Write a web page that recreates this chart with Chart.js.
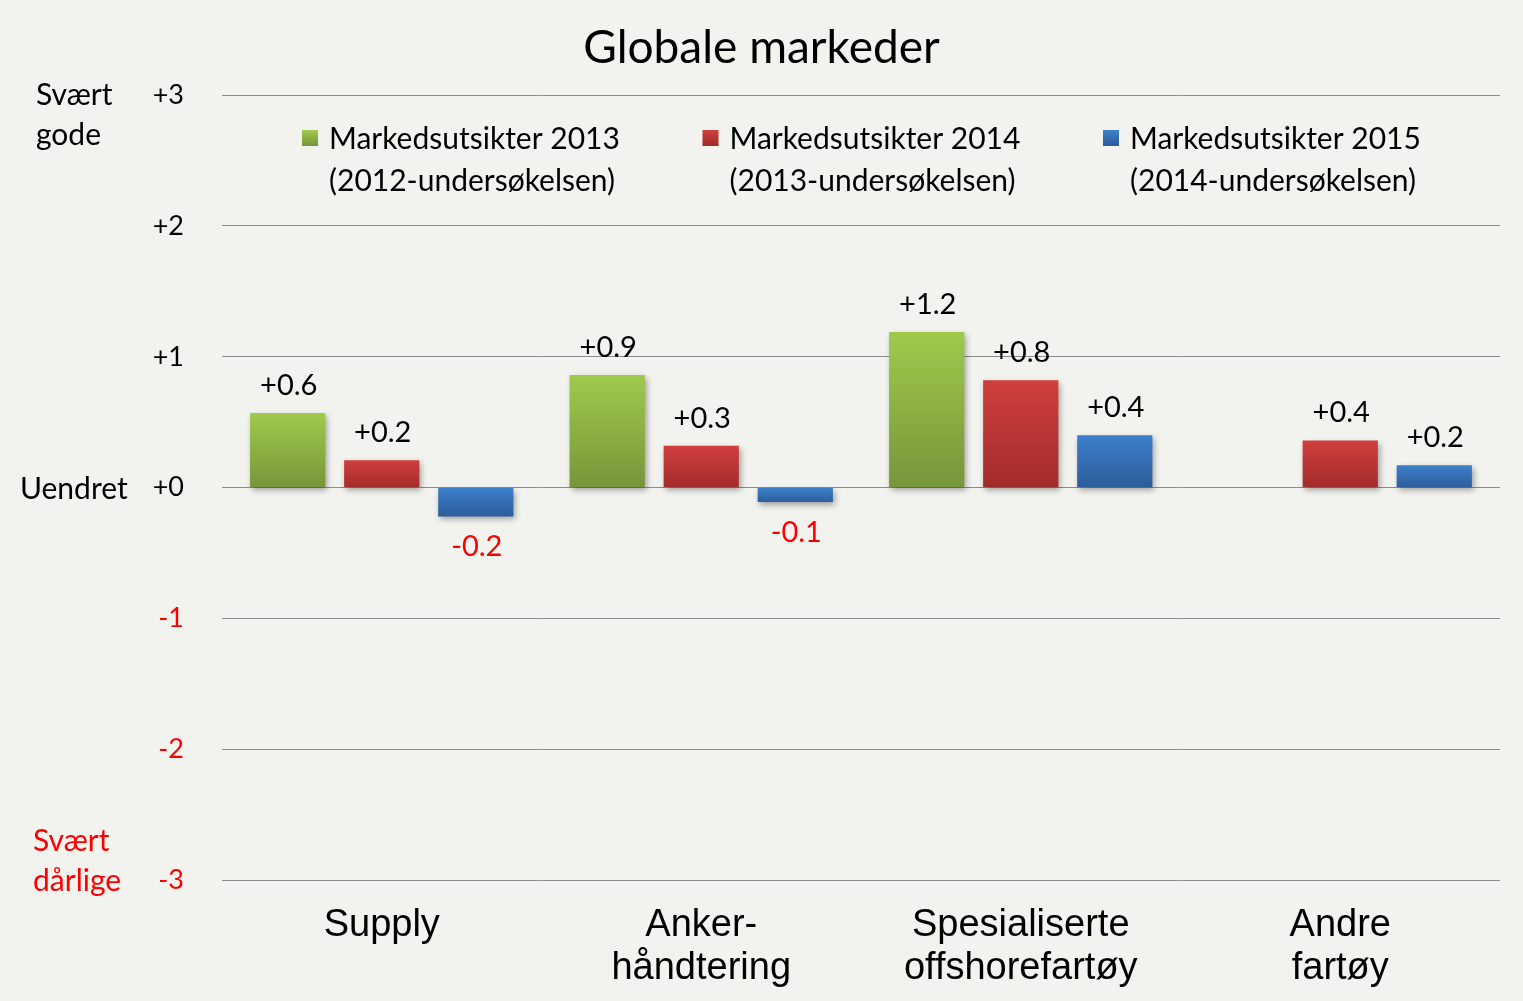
<!DOCTYPE html>
<html>
<head>
<meta charset="utf-8">
<title>Globale markeder</title>
<script src="https://cdn.jsdelivr.net/npm/chart.js@4.4.1/dist/chart.umd.min.js"></script>
<style>
  html, body { margin:0; padding:0; background:#f2f2ee; }
  #wrap { width:1523px; height:1001px; }
</style>
</head>
<body>
<div id="wrap"><canvas id="chart" width="1523" height="1001"></canvas></div>
<script>
/* =============================================
   Globale markeder – markedsutsikter per segment
   ============================================= */

const categories = [
  ['Supply'],
  ['Anker-', 'håndtering'],
  ['Spesialiserte', 'offshorefartøy'],
  ['Andre', 'fartøy']
];

const seriesNames = [
  ['Markedsutsikter 2013', '(2012-undersøkelsen)'],
  ['Markedsutsikter 2014', '(2013-undersøkelsen)'],
  ['Markedsutsikter 2015', '(2014-undersøkelsen)']
];

const outlook2013 = [0.57, 0.86, 1.19, null];
const outlook2014 = [0.21, 0.32, 0.82, 0.36];
const outlook2015 = [-0.22, -0.11, 0.40, 0.17];

const yTicks = [-3, -2, -1, 0, 1, 2, 3];

// top / bottom colour of each series' gradient
const SERIES_COLORS = [
  { top:'#a0c94c', bottom:'#76953a' },
  { top:'#d03f3d', bottom:'#a12b2a' },
  { top:'#3d80cc', bottom:'#2c5b98' }
];

const FONT = 'Lato, "Open Sans", sans-serif';
const RED = '#ff0000';

function fmt(v) {
  return (v >= 0 ? '+' : '') + (Number.isInteger(v) ? v : v.toFixed(1));
}

function barGradient(idx) {
  return ctx => {
    const chart = ctx.chart;
    const c = SERIES_COLORS[idx];
    if (!chart.chartArea || ctx.type !== 'data' || ctx.raw == null) return c.top;
    const y = chart.scales.y;
    const y0 = y.getPixelForValue(Math.max(ctx.raw, 0));
    const y1 = y.getPixelForValue(Math.min(ctx.raw, 0));
    const g = chart.ctx.createLinearGradient(0, y0, 0, y1 + 1);
    g.addColorStop(0, c.top);
    g.addColorStop(1, c.bottom);
    return g;
  };
}

// page background
const bgPlugin = {
  id:'bg',
  beforeDraw(chart) {
    const c = chart.ctx;
    c.save();
    c.fillStyle = '#f2f2ee';
    c.fillRect(0, 0, chart.width, chart.height);
    c.restore();
  }
};

// soft drop shadow under the bars
const shadowPlugin = {
  id:'shadow',
  beforeDatasetDraw(chart) {
    const c = chart.ctx;
    c.save();
    c.shadowColor = 'rgba(0,0,0,0.35)';
    c.shadowBlur = 6;
    c.shadowOffsetX = 2;
    c.shadowOffsetY = 3;
  },
  afterDatasetDraw(chart) { chart.ctx.restore(); }
};

// value labels over / under each bar
const valueLabels = {
  id:'valueLabels',
  afterDatasetsDraw(chart) {
    const c = chart.ctx;
    c.save();
    c.font = '29px ' + FONT;
    c.textAlign = 'center';
    chart.data.datasets.forEach((ds, i) => {
      chart.getDatasetMeta(i).data.forEach((bar, j) => {
        const v = ds.data[j];
        if (v == null) return;
        if (v >= 0) {
          c.fillStyle = '#000';
          c.textBaseline = 'bottom';
          c.fillText(fmt(v), bar.x + 1, bar.y - 13);
        } else {
          c.fillStyle = RED;
          c.textBaseline = 'top';
          c.fillText(fmt(v), bar.x + 1, bar.y + 16);
        }
      });
    });
    c.restore();
  }
};

// legend inside the plot, two-line labels
const innerLegend = {
  id:'innerLegend',
  afterDraw(chart) {
    const c = chart.ctx;
    const area = chart.chartArea;
    c.save();
    c.font = '30px ' + FONT;
    c.textBaseline = 'middle';
    c.textAlign = 'left';
    seriesNames.forEach((lines, i) => {
      const x = area.left + 80 + i * 400.5;
      const col = SERIES_COLORS[i];
      const g = c.createLinearGradient(0, 130, 0, 146);
      g.addColorStop(0, col.top);
      g.addColorStop(1, col.bottom);
      c.fillStyle = g;
      c.fillRect(x, 130, 16, 16);
      c.fillStyle = '#000';
      lines.forEach((t, k) => c.fillText(t, x + 27, 139 + k * 42));
    });
    c.restore();
  }
};

// verbal scale on the far left
const sideLabels = {
  id:'sideLabels',
  afterDraw(chart) {
    const c = chart.ctx;
    const y = chart.scales.y;
    c.save();
    c.font = '30px ' + FONT;
    c.textBaseline = 'middle';
    c.textAlign = 'left';
    c.fillStyle = '#000';
    const top = y.getPixelForValue(3);
    c.fillText('Svært', 36, top);
    c.fillText('gode', 36, top + 40);
    c.fillText('Uendret', 20, y.getPixelForValue(0) + 2);
    c.fillStyle = RED;
    const bot = y.getPixelForValue(-3);
    c.fillText('Svært', 33, bot - 39);
    c.fillText('dårlige', 33, bot + 1);
    c.restore();
  }
};

new Chart(document.getElementById('chart'), {
  type:'bar',
  data:{
    labels: categories,
    datasets:[
      { label: seriesNames[0].join(' '), data: outlook2013, backgroundColor: barGradient(0) },
      { label: seriesNames[1].join(' '), data: outlook2014, backgroundColor: barGradient(1) },
      { label: seriesNames[2].join(' '), data: outlook2015, backgroundColor: barGradient(2) }
    ]
  },
  options:{
    responsive:false,
    animation:false,
    layout:{ padding:0 },
    datasets:{ bar:{ categoryPercentage:0.883, barPercentage:0.8 } },
    plugins:{
      legend:{ display:false },
      tooltip:{ enabled:false },
      title:{
        display:true,
        text:'Globale markeder',
        color:'#000',
        font:{ family:FONT, size:46, weight:'normal', lineHeight:1.2 },
        padding:{ top:21, bottom:19 }
      }
    },
    scales:{
      x:{
        grid:{ display:false },
        border:{ display:false },
        ticks:{
          color:'#000',
          padding:16,
          maxRotation:0,
          autoSkip:false,
          font:{ family:'"Liberation Sans", Arial, sans-serif', size:38, lineHeight:1.13 }
        },
        afterFit(scale) { scale.height = 121; }
      },
      y:{
        min:-3,
        max:3,
        afterBuildTicks(scale) { scale.ticks = yTicks.map(v => ({ value:v })); },
        grid:{ color:'#8c8c8c', lineWidth:1, drawTicks:false },
        border:{ display:false },
        ticks:{
          padding:38,
          color: ctx => ctx.tick.value < 0 ? RED : '#000',
          font:{ family:FONT, size:27 },
          callback: v => fmt(v)
        },
        afterFit(scale) { scale.width = 222; }
      },
      // empty strip on the right so the title stays centred on the page
      yRight:{
        position:'right',
        grid:{ display:false },
        border:{ display:false },
        ticks:{ display:false },
        afterFit(scale) { scale.width = 23; }
      }
    }
  },
  plugins:[bgPlugin, shadowPlugin, valueLabels, innerLegend, sideLabels]
});
</script>
</body>
</html>
